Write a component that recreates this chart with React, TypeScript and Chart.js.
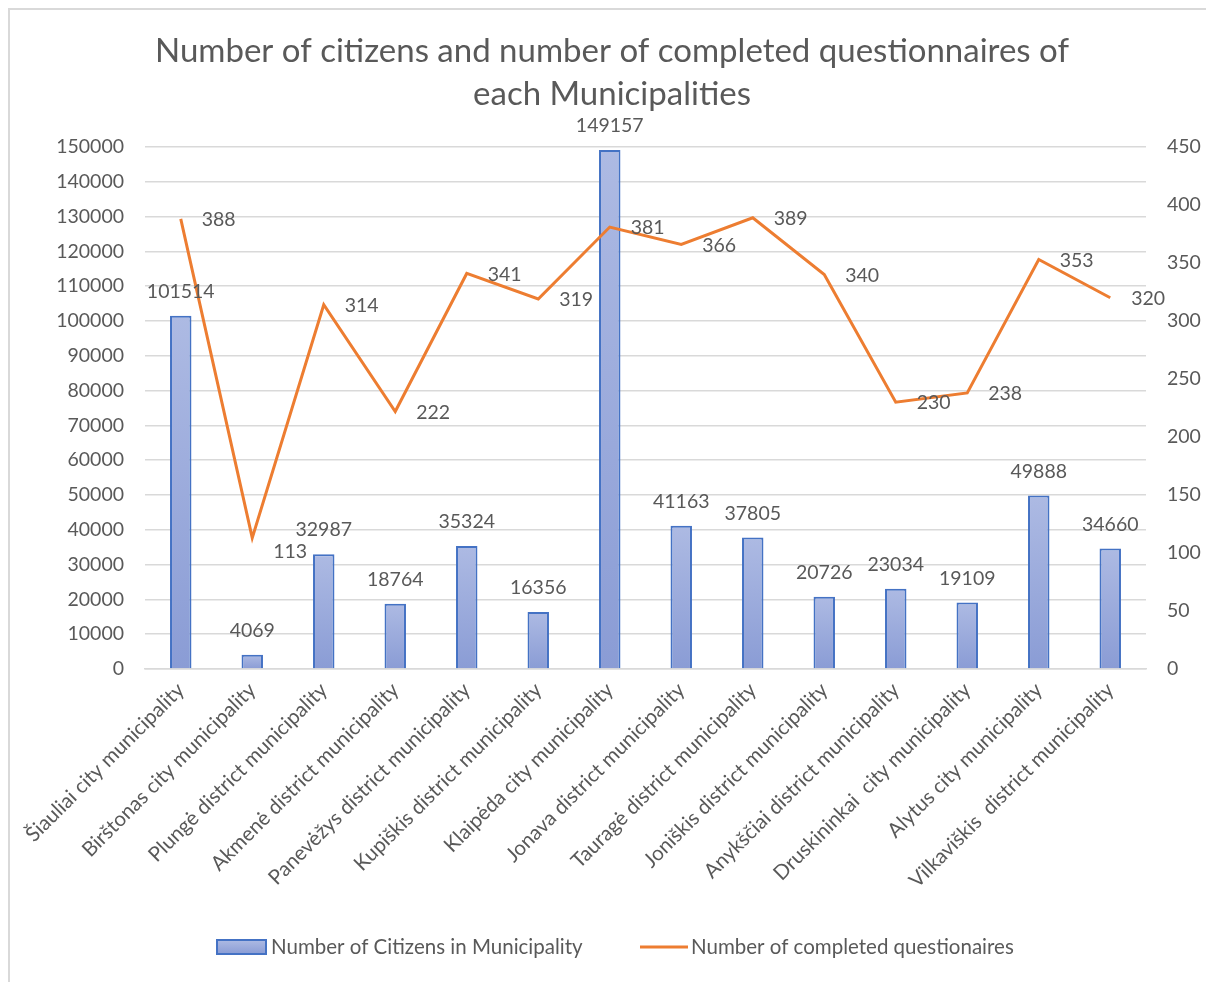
import React, { useEffect, useRef } from "react";
import { Chart, registerables } from "chart.js";
Chart.register(...registerables);

const titleLines = [
  "Number of citizens and number of completed questionnaires of",
  "each Municipalities",
];
const categories = [
  "Šiauliai city municipality",
  "Birštonas city municipality",
  "Plungė district municipality",
  "Akmenė district municipality",
  "Panevėžys district municipality",
  "Kupiškis district municipality",
  "Klaipėda city municipality",
  "Jonava district municipality",
  "Tauragė district municipality",
  "Joniškis district municipality",
  "Anykščiai district municipality",
  "Druskininkai  city municipality",
  "Alytus city municipality",
  "Vilkaviškis  district municipality",
];
const citizens = [101514, 4069, 32987, 18764, 35324, 16356, 149157, 41163, 37805, 20726, 23034, 19109, 49888, 34660];
const questionnaires = [388, 113, 314, 222, 341, 319, 381, 366, 389, 340, 230, 238, 353, 320];
const seriesNames = ["Number of Citizens in Municipality", "Number of completed questionaires"];
const leftAxis = { min: 0, max: 150000, step: 10000 };
const rightAxis = { min: 0, max: 450, step: 50 };

const FONT = "Lato, 'Open Sans', sans-serif";
const GRAY = "#595959";
const GRID = "#d9d9d9";
const BLUE = "#4472c4";
const ORANGE = "#ed7d31";
const BAR_TOP = "#adbae3";
const BAR_BOTTOM = "#8a9cd5";

const overlayPlugin = {
  id: "overlay",
  afterDatasetsDraw(chart: any) {
    const ctx = chart.ctx;
    ctx.save();
    ctx.font = `19.5px ${FONT}`;
    ctx.fillStyle = GRAY;
    ctx.textBaseline = "middle";
    ctx.textAlign = "center";
    chart.getDatasetMeta(0).data.forEach((el: any, i: number) => {
      ctx.fillText(String(citizens[i]), el.x, el.y - 24);
    });
    ctx.textAlign = "left";
    chart.getDatasetMeta(1).data.forEach((el: any, i: number) => {
      // Excel nudged the lowest label down to avoid the neighbouring bar label
      const dy = i === 1 ? 14 : 1;
      ctx.fillText(String(questionnaires[i]), el.x + 21, el.y + dy);
    });
    ctx.restore();
  },
  afterDraw(chart: any) {
    const ctx = chart.ctx;
    const w = chart.width;
    ctx.save();
    ctx.fillStyle = GRAY;
    ctx.textAlign = "center";
    ctx.textBaseline = "middle";
    ctx.font = `33px ${FONT}`;
    ctx.fillText(titleLines[0], w / 2, 41);
    ctx.fillText(titleLines[1], w / 2, 84);

    // legend
    const ly = 937;
    const g = ctx.createLinearGradient(0, ly - 7, 0, ly + 7);
    g.addColorStop(0, BAR_TOP);
    g.addColorStop(1, BAR_BOTTOM);
    ctx.fillStyle = g;
    ctx.fillRect(207, ly - 7, 49, 14);
    ctx.strokeStyle = BLUE;
    ctx.lineWidth = 2;
    ctx.strokeRect(207, ly - 7, 49, 14);
    ctx.fillStyle = GRAY;
    ctx.font = `20.5px ${FONT}`;
    ctx.textAlign = "left";
    ctx.fillText(seriesNames[0], 261, ly);
    ctx.strokeStyle = ORANGE;
    ctx.lineWidth = 3;
    ctx.beginPath();
    ctx.moveTo(630, ly);
    ctx.lineTo(678, ly);
    ctx.stroke();
    ctx.fillText(seriesNames[1], 681, ly);
    ctx.restore();
  },
};

export default function App() {
  const ref = useRef<HTMLCanvasElement | null>(null);
  useEffect(() => {
    if (!ref.current) return;
    const chart = new Chart(ref.current, {
      type: "bar",
      data: {
        labels: categories,
        datasets: [
          {
            type: "bar",
            label: seriesNames[0],
            data: citizens,
            yAxisID: "y",
            order: 2,
            backgroundColor: (c: any) => {
              const ch = c.chart;
              if (!ch.chartArea || c.type !== "data") return BAR_TOP;
              const top = ch.scales.y.getPixelForValue(c.raw);
              const bottom = ch.scales.y.getPixelForValue(0);
              const g = ch.ctx.createLinearGradient(0, top, 0, bottom);
              g.addColorStop(0, BAR_TOP);
              g.addColorStop(1, BAR_BOTTOM);
              return g;
            },
            borderColor: BLUE,
            borderWidth: 2,
            barPercentage: 0.3,
            categoryPercentage: 1,
          } as any,
          {
            type: "line",
            label: seriesNames[1],
            data: questionnaires,
            yAxisID: "y1",
            order: 1,
            borderColor: ORANGE,
            borderWidth: 3,
            pointRadius: 0,
            tension: 0,
            fill: false,
          } as any,
        ],
      },
      options: {
        responsive: false,
        animation: false,
        devicePixelRatio: 1,
        layout: { padding: { top: 137, left: 0, right: 0, bottom: 60 }, autoPadding: false } as any,
        plugins: { legend: { display: false }, title: { display: false }, tooltip: { enabled: false } },
        scales: {
          x: {
            grid: { display: false, drawTicks: false },
            border: { display: true, color: GRID, width: 1.5 },
            ticks: {
              color: GRAY,
              font: { family: FONT, size: 20.5 },
              maxRotation: 45,
              minRotation: 45,
              autoSkip: false,
              padding: 9,
            },
            afterFit: (s: any) => {
              s.height = 253;
            },
          },
          y: {
            position: "left",
            min: leftAxis.min,
            max: leftAxis.max,
            grid: { color: GRID, lineWidth: 1.5, drawTicks: false },
            border: { display: false },
            ticks: {
              stepSize: leftAxis.step,
              color: GRAY,
              font: { family: FONT, size: 19.5 },
              padding: 21,
              callback: (v: any) => String(v),
            },
            afterFit: (s: any) => {
              s.width = 135;
            },
          },
          y1: {
            position: "right",
            min: rightAxis.min,
            max: rightAxis.max,
            grid: { display: false, drawTicks: false },
            border: { display: false },
            ticks: {
              stepSize: rightAxis.step,
              color: GRAY,
              font: { family: FONT, size: 19.5 },
              padding: 21,
              callback: (v: any) => String(v),
            },
            afterFit: (s: any) => {
              s.width = 68;
            },
          },
        },
      } as any,
      plugins: [overlayPlugin],
    });
    return () => chart.destroy();
  }, []);
  return (
    <div
      style={{
        width: 1204,
        height: 972,
        borderLeft: "2px solid #d9d9d9",
        borderTop: "2px solid #d9d9d9",
        background: "#fff",
      }}
    >
      <canvas ref={ref} width={1204} height={972} style={{ display: "block" }} />
    </div>
  );
}
